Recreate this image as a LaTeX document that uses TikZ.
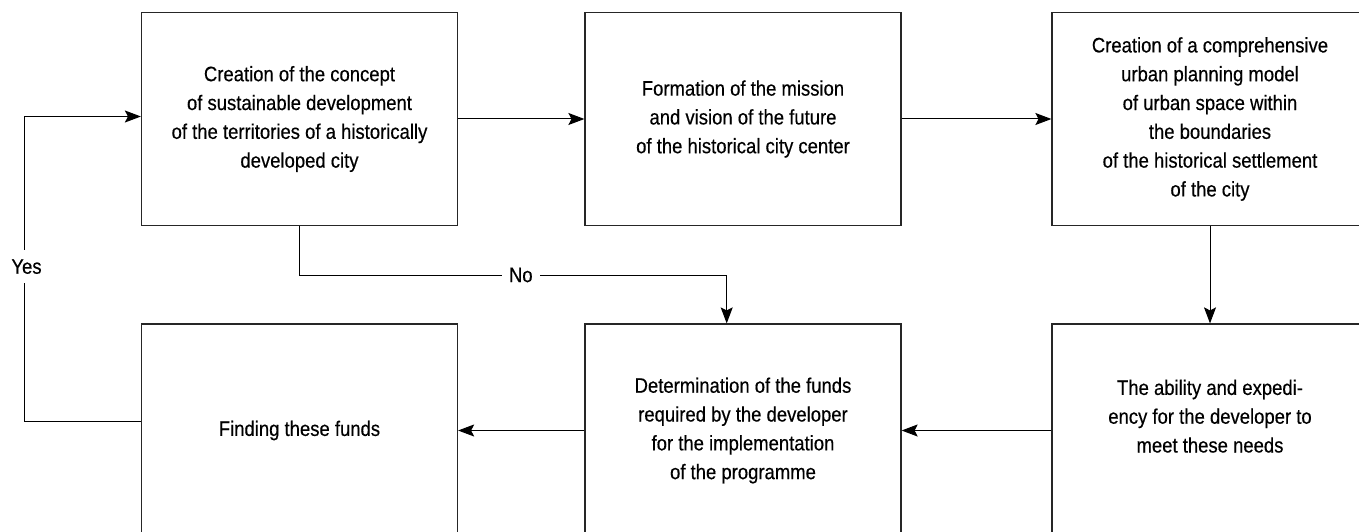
\documentclass[tikz,border=0pt]{standalone}
\usepackage{fontspec}
\setmainfont{Liberation Sans}[FakeStretch=0.88,FakeBold=0.4]
\usetikzlibrary{arrows.meta}
\begin{document}
\begin{tikzpicture}[x=1pt,y=-1pt,
  box/.style={draw=black!85, line width=1.2pt, minimum width=316pt, minimum height=213pt, align=center, inner sep=0pt, font=\fontsize{21}{28.8}\selectfont},
  arr/.style={line width=1pt, -{Stealth[length=16pt,width=12pt,inset=3pt]}},
  lbl/.style={fill=white, inner sep=7pt, font=\fontsize{21}{24}\selectfont}]
\useasboundingbox (0,0) rectangle (1359,532);
\clip (0,0) rectangle (1359,532);
\node[box] (b1) at (299.5,119) {Creation of the concept\\of sustainable development\\of the territories of a historically\\developed city};
\node[box] (b2) at (743,119) {Formation of the mission\\and vision of the future\\of the historical city center};
\node[box] (b3) at (1210,119) {Creation of a comprehensive\\urban planning model\\of urban space within\\the boundaries\\of the historical settlement\\of the city};
\node[box] (b4) at (299.5,430.5) {Finding these funds};
\node[box] (b5) at (743,430.5) {Determination of the funds\\required by the developer\\for the implementation\\of the programme};
\node[box] (b6) at (1210,430.5) {The ability and expedi-\\ency for the developer to\\meet these needs\\\mbox{}};
\draw[arr] (b1.east) -- (b2.west);
\draw[arr] (b2.east) -- (b3.west);
\draw[arr] (b3.south) -- (b6.north);
\draw[arr] (b6.west) -- (b5.east);
\draw[arr] (b5.west) -- (b4.east);
\coordinate (nol) at (299.5,275);
\coordinate (nor) at (726.7,275);
\draw[arr] (b1.south) -- (nol) -- node[lbl, pos=0.518]{No} (nor) -- (nor |- b5.north);
\coordinate (yb) at (24.5,421);
\coordinate (yt) at (24.5,116.5);
\draw[arr] (b4.west |- yb) -- (yb) -- node[lbl, inner ysep=9pt, xshift=2pt, pos=0.507]{Yes} (yt) -- (b1.west |- yt);
\end{tikzpicture}
\end{document}
